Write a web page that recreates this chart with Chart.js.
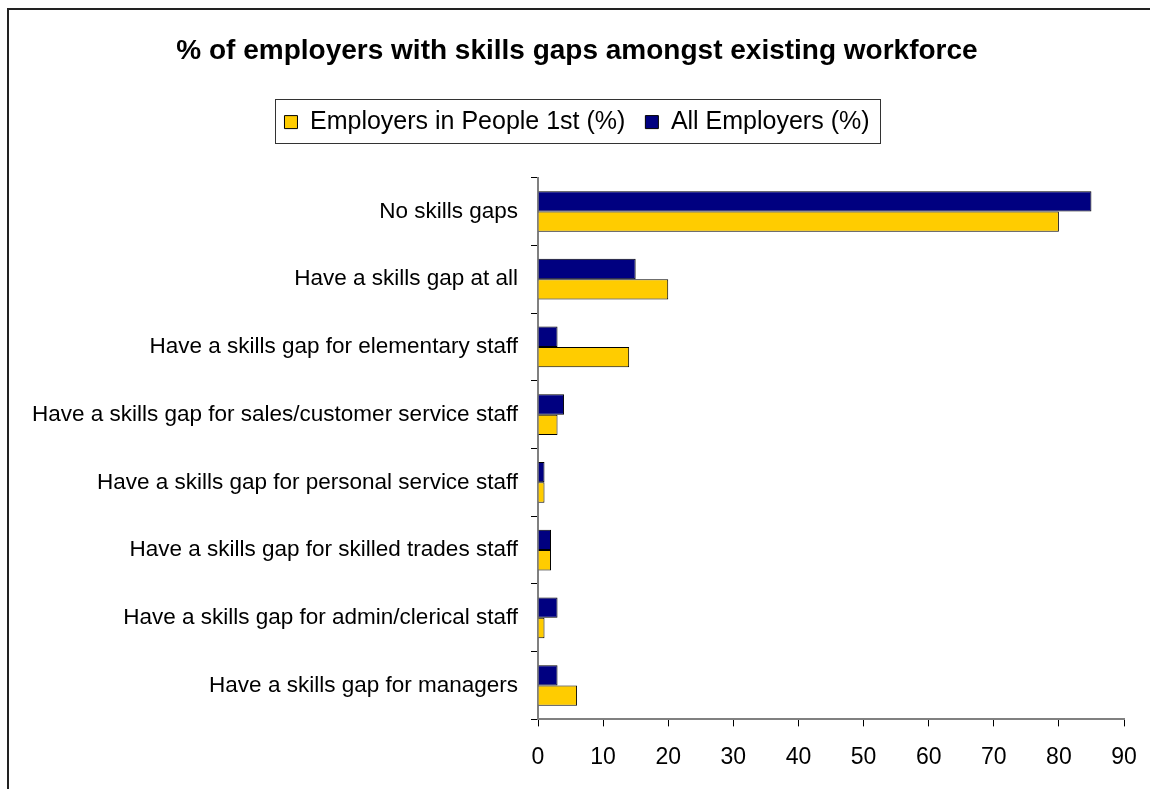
<!DOCTYPE html>
<html>
<head>
<meta charset="utf-8">
<script src="https://cdn.jsdelivr.net/npm/chart.js@4.4.1/dist/chart.umd.min.js"></script>
<style>
  html, body { margin: 0; padding: 0; background: #fff; overflow: hidden; }
  #frame { position: absolute; left: 7px; top: 8px; width: 1200px; height: 840px;
           border-left: 2px solid #222; border-top: 2px solid #222; }
  #wrap { position: absolute; left: 0; top: 0; width: 1150px; height: 789px; }
</style>
</head>
<body>
<div id="frame"></div>
<div id="wrap"><canvas id="chart"></canvas></div>
<script>
const categories = [
  'No skills gaps',
  'Have a skills gap at all',
  'Have a skills gap for elementary staff',
  'Have a skills gap for sales/customer service staff',
  'Have a skills gap for personal service staff',
  'Have a skills gap for skilled trades staff',
  'Have a skills gap for admin/clerical staff',
  'Have a skills gap for managers'
];
const allEmployers = [85, 15, 3, 4, 1, 2, 3, 3];
const people1st = [80, 20, 14, 3, 1, 2, 1, 6];
const xTicks = [0, 10, 20, 30, 40, 50, 60, 70, 80, 90];

const FONT = '"Liberation Sans", Arial, sans-serif';

// thin box round the legend, like the original
const legendBox = {
  id: 'legendBox',
  afterDraw(chart) {
    const lg = chart.legend;
    if (!lg || !lg.legendHitBoxes.length) return;
    let x1 = Infinity, x2 = -Infinity, y1 = Infinity, y2 = -Infinity;
    lg.legendHitBoxes.forEach(b => {
      x1 = Math.min(x1, b.left); x2 = Math.max(x2, b.left + b.width);
      y1 = Math.min(y1, b.top); y2 = Math.max(y2, b.top + b.height);
    });
    const c = chart.ctx;
    c.save();
    c.strokeStyle = '#333';
    c.lineWidth = 1;
    c.strokeRect(Math.round(x1 - 9) + 0.5, Math.round(y1 - 11) + 0.5,
                 Math.round(x2 - x1 + 20), Math.round(y2 - y1 + 19));
    c.restore();
  }
};

// empty gap between the legend and the plot
const spacer = {
  id: 'spacer',
  beforeInit(chart) {
    Chart.layouts.addBox(chart, {
      position: 'top', weight: 100, fullSize: true, options: {},
      isHorizontal() { return true; },
      update(maxWidth) { this.width = maxWidth; this.height = 33; },
      draw() {}
    });
  }
};

new Chart(document.getElementById('chart').getContext('2d'), {
  type: 'bar',
  data: {
    labels: categories,
    datasets: [
      { label: 'All Employers (%)', data: allEmployers, backgroundColor: '#000080',
        borderColor: '#000', borderWidth: 1, categoryPercentage: 0.6, barPercentage: 1 },
      { label: 'Employers in People 1st (%)', data: people1st, backgroundColor: '#FFCC00',
        borderColor: '#000', borderWidth: 1, categoryPercentage: 0.6, barPercentage: 1 }
    ]
  },
  options: {
    indexAxis: 'y',
    responsive: true,
    maintainAspectRatio: false,
    animation: false,
    layout: { padding: { left: 13, right: 9, top: 0, bottom: 1 } },
    plugins: {
      title: {
        display: true,
        text: '% of employers with skills gaps amongst existing workforce',
        color: '#000',
        font: { family: FONT, size: 28, weight: 'bold' },
        padding: { top: 34, bottom: 22 }
      },
      legend: {
        display: true,
        labels: {
          color: '#000',
          font: { family: FONT, size: 25 },
          boxWidth: 13,
          boxHeight: 13,
          padding: 20,
          sort: (a, b) => b.datasetIndex - a.datasetIndex
        }
      },
      tooltip: { enabled: false }
    },
    scales: {
      x: {
        min: 0,
        max: 90,
        afterBuildTicks: axis => { axis.ticks = xTicks.map(v => ({ value: v })); },
        afterFit: axis => { axis.paddingRight = 26; },
        grid: { drawOnChartArea: false, color: '#000', tickLength: 7 },
        border: { color: '#808080', width: 2 },
        ticks: { color: '#000', font: { family: FONT, size: 23 }, padding: 17, maxRotation: 0 }
      },
      y: {
        afterFit: axis => { axis.width = 525; },
        grid: { drawOnChartArea: false, color: '#000', tickLength: 7, offset: true },
        border: { color: '#808080', width: 2 },
        ticks: { color: '#000', font: { family: FONT, size: 22.5 }, padding: 13 }
      }
    }
  },
  plugins: [legendBox, spacer]
});
</script>
</body>
</html>
